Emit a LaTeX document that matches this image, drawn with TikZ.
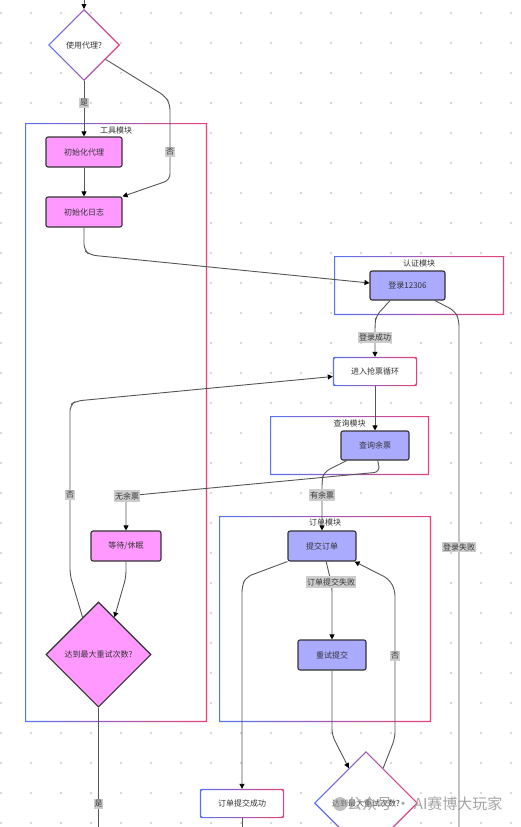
\documentclass[tikz,border=0pt]{standalone}
\usepackage{fontspec}
\setmainfont{Noto Sans CJK SC}
\usetikzlibrary{shapes.geometric,arrows.meta,calc}
\definecolor{gblue}{RGB}{85,115,245}
\definecolor{gpink}{RGB}{235,65,115}
\definecolor{pinkfill}{RGB}{255,153,255}
\definecolor{lavfill}{RGB}{170,170,255}
\definecolor{bordc}{RGB}{51,51,51}
\definecolor{edgec}{RGB}{85,85,85}
\definecolor{labc}{RGB}{205,205,205}
\definecolor{txtc}{RGB}{51,51,51}
\definecolor{dotc}{RGB}{215,215,215}
\definecolor{wmgray}{RGB}{150,150,150}
\newcommand\gradrect[2][0pt]{%
  \shade[rounded corners=#1, even odd rule, left color=gblue, right color=gpink]
    (#2.north west) rectangle (#2.south east)
    ([shift={(1.2,1.2)}]#2.north west) rectangle ([shift={(-1.2,-1.2)}]#2.south east);}
\newcommand\graddiam[1]{%
  \shade[even odd rule, left color=gblue, right color=gpink]
    (#1.north) -- (#1.east) -- (#1.south) -- (#1.west) -- cycle
    ([shift={(0,1.7)}]#1.north) -- ([shift={(-1.7,0)}]#1.east) -- ([shift={(0,-1.7)}]#1.south) -- ([shift={(1.7,0)}]#1.west) -- cycle;}
\begin{document}
\begin{tikzpicture}[x=1pt,y=-1pt, font=\fontsize{8}{9.6}\selectfont, text=txtc,
  proc/.style={rectangle, rounded corners=2pt, draw=bordc, line width=1.1pt, inner sep=0pt, minimum height=30pt},
  pinkbox/.style={proc, fill=pinkfill},
  lavbox/.style={proc, fill=lavfill},
  whitebox/.style={rectangle, rounded corners=2pt, fill=white, inner sep=0pt, minimum height=29pt},
  frame/.style={rectangle, fill=white, inner sep=0pt, outer sep=0pt},
  ftitle/.style={inner sep=0pt},
  elabel/.style={fill=labc, inner xsep=0.8pt, inner ysep=1.8pt},
  conn/.style={draw=edgec, line width=0.9pt, rounded corners=6pt},
  arr/.style={conn, -{Triangle[length=5pt,width=5pt,color=black]}},
  wdiam/.style={diamond, shape aspect=1, fill=white, inner sep=0pt, outer sep=0pt},
  pdiam/.style={diamond, shape aspect=1, fill=pinkfill, draw=bordc, line width=1.1pt, inner sep=0pt}
]
\useasboundingbox (0,0) rectangle (521,827);
\fill[white] (0,0) rectangle (521,827);
% dot grid
\foreach \i in {0,...,17}
  \foreach \j in {0,...,27}
    \fill[dotc] (1+30*\i, 13+30*\j) circle (1.3);

% frames
\node[frame, minimum width=182pt, minimum height=599pt] (tool) at (116,422.5) {};
\node[frame, minimum width=170pt, minimum height=59pt] (auth) at (419,285.5) {};
\node[frame, minimum width=159pt, minimum height=59pt] (qfr) at (349.5,445.5) {};
\node[frame, minimum width=212pt, minimum height=206pt] (order) at (325,619) {};
\gradrect{tool}
\gradrect{auth}
\gradrect{qfr}
\gradrect{order}
\node[ftitle] (ttool) at (116,130) {工具模块};
\node[ftitle] (tauth) at (419,263) {认证模块};
\node[ftitle] (tqfr) at (349.5,423) {查询模块};
\node[ftitle] (torder) at (325,522) {订单模块};

% nodes
\node[wdiam, minimum width=72pt, minimum height=72pt] (d1) at (84,45) {使用代理?};
\graddiam{d1}
\node[pinkbox, minimum width=76pt] (p1) at (84,152) {初始化代理};
\node[pinkbox, minimum width=76pt] (p2) at (84,212) {初始化日志};
\node[lavbox, minimum width=75pt, minimum height=29pt] (login) at (407.5,285.5) {登录12306};
\node[whitebox, minimum width=84pt] (loop) at (375,371.5) {进入抢票循环};
\gradrect[2pt]{loop}
\node[lavbox, minimum width=68pt, minimum height=29pt] (query) at (375,445.5) {查询余票};
\node[pinkbox, minimum width=70pt] (wait) at (126,546) {等待/休眠};
\node[pdiam, minimum width=105pt, minimum height=105pt] (d2) at (98.5,654.5) {达到最大重试次数?};
\node[lavbox, minimum width=68pt] (submit) at (322,546) {提交订单};
\node[lavbox, minimum width=68pt] (retry) at (332,655) {重试提交};
\node[whitebox, minimum width=84pt] (success) at (242,803.5) {订单提交成功};
\gradrect[2pt]{success}
\node[wdiam, minimum width=104pt, minimum height=104pt] (d3) at (366,803) {达到最大重试次数?};
\graddiam{d3}

\coordinate (topc) at (84,0);
\coordinate (bot1) at (459,827);
\coordinate (bot2) at (98.5,827);
\coordinate (bot3) at (242,827);

% connectors
\draw[arr] (topc) -- (d1.north);
\draw[arr] (d1.south) -- (p1.north);
\draw[arr] ($(d1.east)!0.4!(d1.south)$) -- (165,96) -- (170,104) -- (170,180) -- (p2.north east);
\draw[arr] (p1.south) -- (p2.north);
\draw[arr] (p2.south) -- (84,250) -- (90,255) -- ([shift={(0,-2.5)}]login.west);
\draw[arr] ($(login.south west)!0.27!(login.south east)$) -- (376,316) -- (375,324) -- (loop.north);
\draw[conn] ($(login.south west)!0.86!(login.south east)$) -- (455,311) -- (459,320) -- (bot1);
\draw[arr] (loop.south) -- (query.north);
\draw[arr] ($(query.south west)!0.54!(query.south east)$) -- (380,472) -- (126,496) -- (wait.north);
\draw[arr] ($(query.south west)!0.09!(query.south east)$) -- (324,472) -- (322,480) -- (submit.north);
\draw[arr] (wait.south) -- (126,577) -- ($(d2.north)!0.3!(d2.east)$);
\draw[arr] ($(d2.north)!0.3!(d2.west)$) -- (70,575) -- (70,405) -- (76,401) -- ([shift={(0,5)}]loop.west);
\draw[conn] (d2.south) -- (bot2);
\draw[arr] ($(submit.south west)!0.56!(submit.south east)$) -- (332,586) -- (retry.north);
\draw[arr] (submit.south west) -- (246,577) -- (242,586) -- (success.north);
\draw[conn] (success.south) -- (bot3);
\draw[arr] (retry.south) -- (332,735) -- ($(d3.north)!0.33!(d3.west)$);
\draw[arr] ($(d3.north)!0.33!(d3.east)$) -- (395,738) -- (395,590) -- (389,579) -- ([shift={(-2,0)}]submit.south east);

% edge labels
\node[elabel] (l1) at (84,103) {是};
\node[elabel] (l2) at (170,152) {否};
\node[elabel] (l3) at (375,337) {登录成功};
\node[elabel] (l4) at (459,547) {登录失败};
\node[elabel] (l5) at (127,496) {无余票};
\node[elabel] (l6) at (322,495) {有余票};
\node[elabel] (l7) at (70,495) {否};
\node[elabel] (l8) at (98.5,804) {是};
\node[elabel] (l9) at (331,582) {订单提交失败};
\node[elabel] (l10) at (395,656) {否};

% watermark
\node[circle, fill=wmgray, opacity=0.6, minimum size=14pt, inner sep=0pt] (wmicon) at (340,804) {};
\node[anchor=west, text=wmgray, text opacity=0.85, font=\fontsize{15}{18}\selectfont, inner sep=0pt] (wm) at (347,804) {公众号 · AI赛博大玩家};
\end{tikzpicture}
\end{document}
